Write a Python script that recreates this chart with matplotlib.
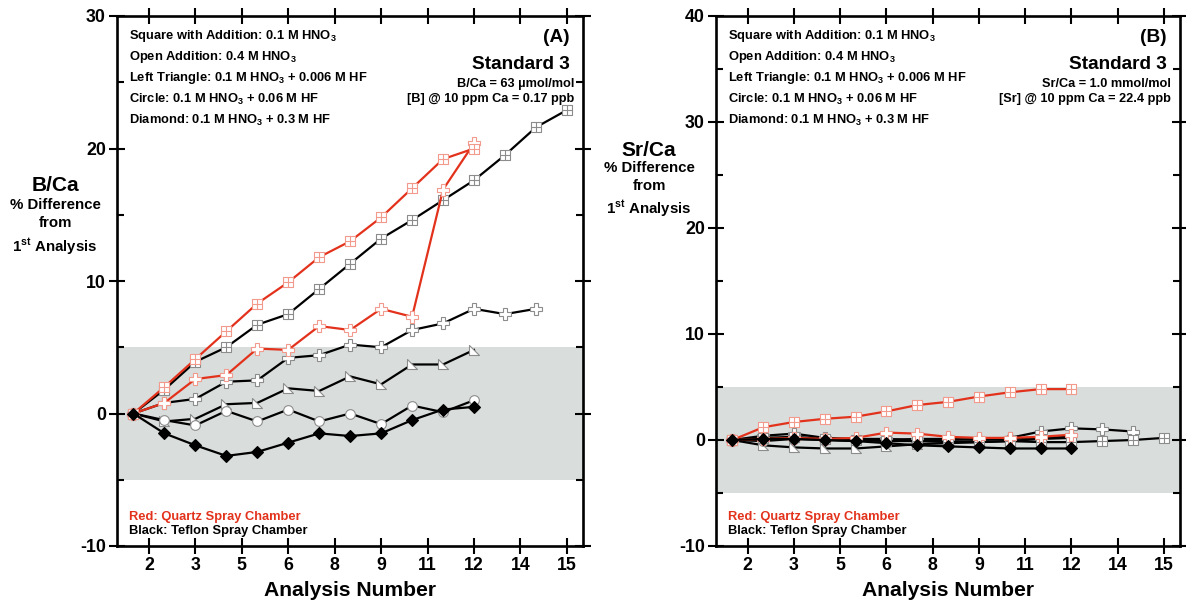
import numpy as np
import matplotlib.pyplot as plt
from matplotlib.path import Path
from matplotlib.ticker import MultipleLocator

plt.rcParams['font.family'] = ['Liberation Sans', 'DejaVu Sans']
plt.rcParams['font.weight'] = 'bold'
plt.rcParams['axes.unicode_minus'] = False
plt.rcParams['mathtext.fontset'] = 'custom'
plt.rcParams['mathtext.rm'] = 'Liberation Sans:bold'
plt.rcParams['mathtext.it'] = 'Liberation Sans:bold'
plt.rcParams['mathtext.bf'] = 'Liberation Sans:bold'

# x tick positions and the labels printed under them
tick_pos = [1.5, 3, 4.5, 6, 7.5, 9, 10.5, 12, 13.5, 15]
tick_lab = ['2', '3', '5', '6', '8', '9', '11', '12', '14', '15']

# panel A: B/Ca % difference from 1st analysis
a_sq_red = [0, 2.0, 4.1, 6.2, 8.3, 9.9, 11.8, 13.0, 14.8, 17.0, 19.2, 20.0]
a_sq_blk = [0, 1.8, 3.9, 5.0, 6.7, 7.5, 9.4, 11.3, 13.2, 14.6, 16.1, 17.6, 19.5, 21.6, 22.9]
a_plus_red = [0, 0.8, 2.6, 2.9, 4.9, 4.8, 6.6, 6.3, 7.9, 7.3, 16.9, 20.4]
a_plus_blk = [0, 0.8, 1.1, 2.4, 2.5, 4.2, 4.4, 5.2, 5.0, 6.3, 6.8, 7.9, 7.5, 7.9]
a_tri = [0, -0.6, -0.4, 0.7, 0.8, 1.9, 1.7, 2.8, 2.2, 3.7, 3.7, 4.8]
a_circ = [0, -0.5, -0.9, 0.2, -0.6, 0.3, -0.6, 0.0, -0.8, 0.6, 0.1, 1.0]
a_dia = [0, -1.5, -2.4, -3.2, -2.9, -2.2, -1.5, -1.7, -1.5, -0.5, 0.3, 0.5]

# panel B: Sr/Ca % difference from 1st analysis
b_sq_red = [0, 1.2, 1.7, 2.0, 2.2, 2.7, 3.3, 3.6, 4.1, 4.5, 4.8, 4.8]
b_sq_blk = [0, 0.2, 0.3, 0.1, 0.0, -0.1, -0.1, -0.2, -0.2, -0.1, -0.2, -0.2, -0.1, 0.0, 0.2]
b_plus_red = [0, 0.1, 0.2, 0.1, 0.2, 0.7, 0.6, 0.3, 0.2, 0.2, 0.3, 0.5]
b_plus_blk = [0, 0.4, 0.6, 0.2, 0.1, 0.1, 0.0, 0.0, 0.1, 0.2, 0.8, 1.1, 1.0, 0.8]
b_tri = [0, -0.5, -0.7, -0.8, -0.8, -0.6, -0.4, -0.3, -0.2, -0.1, 0.1, 0.2]
b_circ = [0, -0.1, 0.1, 0.0, -0.1, 0.0, 0.1, 0.1, 0.0, 0.1, 0.2, 0.3]
b_dia = [0, 0.1, 0.1, 0.0, -0.1, -0.3, -0.5, -0.6, -0.7, -0.8, -0.8, -0.8]

legend_lines = [
    r'Square with Addition: 0.1 M HNO$_3$',
    r'Open Addition: 0.4 M HNO$_3$',
    r'Left Triangle: 0.1 M HNO$_3$ + 0.006 M HF',
    r'Circle: 0.1 M HNO$_3$ + 0.06 M HF',
    r'Diamond: 0.1 M HNO$_3$ + 0.3 M HF',
]

RED = '#e3321c'
BAND = '#d9dddc'

M, L, C = Path.MOVETO, Path.LINETO, Path.CLOSEPOLY
sq_cross = Path([(-1, -1), (1, -1), (1, 1), (-1, 1), (-1, -1),
                 (0, -1), (0, 1), (-1, 0), (1, 0)],
                [M, L, L, L, C, M, L, M, L])
left_tri = Path([(-1, 1), (-1, -1), (1, -1), (-1, 1)], [M, L, L, C])


def draw_panel(ax, sq_red, sq_blk, plus_red, plus_blk, tri, circ, dia, ymax):
    ax.axhspan(-5, 5, color=BAND, lw=0, zorder=0)

    def series(vals, color, marker, ms, mfc, mec, mew=0.8, z=3):
        xs = np.arange(1, len(vals) + 1)
        ax.plot(xs, vals, color=color, lw=1.6, marker=marker, ms=ms,
                mfc=mfc, mec=mec, mew=mew, zorder=z)

    series(tri, 'black', left_tri, 7.5, 'white', '#8c8c8c')
    series(circ, 'black', 'o', 7, 'white', '#8c8c8c')
    series(plus_blk, 'black', 'P', 9, 'white', '#8c8c8c')
    series(sq_blk, 'black', sq_cross, 7.5, 'white', '#8c8c8c')
    series(plus_red, RED, 'P', 9, 'white', '#f29a8c', z=4)
    series(sq_red, RED, sq_cross, 7.5, 'white', '#f29a8c', z=4)
    series(dia, 'black', 'D', 6.5, 'black', 'black', z=5)

    ax.set_xlim(0.47, 15.52)
    ax.set_ylim(-10, ymax)
    ax.set_xticks(tick_pos)
    ax.set_xticklabels(tick_lab)
    ax.yaxis.set_major_locator(MultipleLocator(10))
    ax.yaxis.set_minor_locator(MultipleLocator(5))
    ax.tick_params(which='major', direction='inout', length=12, width=1.5,
                   top=True, right=True, labelsize=12.8, pad=2)
    ax.tick_params(which='minor', direction='in', length=5, width=1.5,
                   left=True, right=True)
    for s in ax.spines.values():
        s.set_linewidth(1.9)
    for lab in ax.get_xticklabels() + ax.get_yticklabels():
        lab.set_fontweight('bold')


fig = plt.figure(figsize=(11.86, 6.04), dpi=100)
W, H = 1186, 604
axA = fig.add_axes([117 / W, 1 - 546 / H, 466 / W, 530 / H])
axB = fig.add_axes([716 / W, 1 - 546 / H, 464 / W, 530 / H])

draw_panel(axA, a_sq_red, a_sq_blk, a_plus_red, a_plus_blk, a_tri, a_circ, a_dia, 30)
draw_panel(axB, b_sq_red, b_sq_blk, b_plus_red, b_plus_blk, b_tri, b_circ, b_dia, 40)


def ftext(x, y, s, **kw):
    # x, y in pixels from top-left, baseline anchored
    fig.text(x / W, 1 - y / H, s, va='baseline', fontweight='bold', **kw)


for left, right, tag, info in [
        (117, 583, '(A)', ['B/Ca = 63 µmol/mol', '[B] @ 10 ppm Ca = 0.17 ppb']),
        (716, 1180, '(B)', ['Sr/Ca = 1.0 mmol/mol', '[Sr] @ 10 ppm Ca = 22.4 ppb'])]:
    for i, line in enumerate(legend_lines):
        ftext(left + 12, 38.6 + i * 21.3, line, fontsize=9.3)
    ftext(right - 13, 42, tag, fontsize=13.7, ha='right')
    ftext(right - 13, 69, 'Standard 3', fontsize=13.7, ha='right')
    ftext(right - 9, 87.3, info[0], fontsize=9.2, ha='right')
    ftext(right - 9, 102.3, info[1], fontsize=9.2, ha='right')
    ftext(left + 12, 519.6, 'Red: Quartz Spray Chamber', fontsize=9.3, color=RED)
    ftext(left + 12, 533.9, 'Black: Teflon Spray Chamber', fontsize=9.3)
    ftext((left + right) / 2, 595.6, 'Analysis Number', fontsize=15.2, ha='center')

# y labels
ftext(55, 191.4, 'B/Ca', fontsize=15, ha='center')
ftext(55, 209.4, '% Difference', fontsize=10.8, ha='center')
ftext(55, 227.1, 'from', fontsize=10.8, ha='center')
ftext(55, 251.4, r'1$^{st}$ Analysis', fontsize=10.8, ha='center')

ftext(649, 156.4, 'Sr/Ca', fontsize=15, ha='center')
ftext(649, 172.1, '% Difference', fontsize=10.8, ha='center')
ftext(649, 190.4, 'from', fontsize=10.8, ha='center')
ftext(649, 213.4, r'1$^{st}$ Analysis', fontsize=10.8, ha='center')

fig.savefig('out.png', dpi=100)
